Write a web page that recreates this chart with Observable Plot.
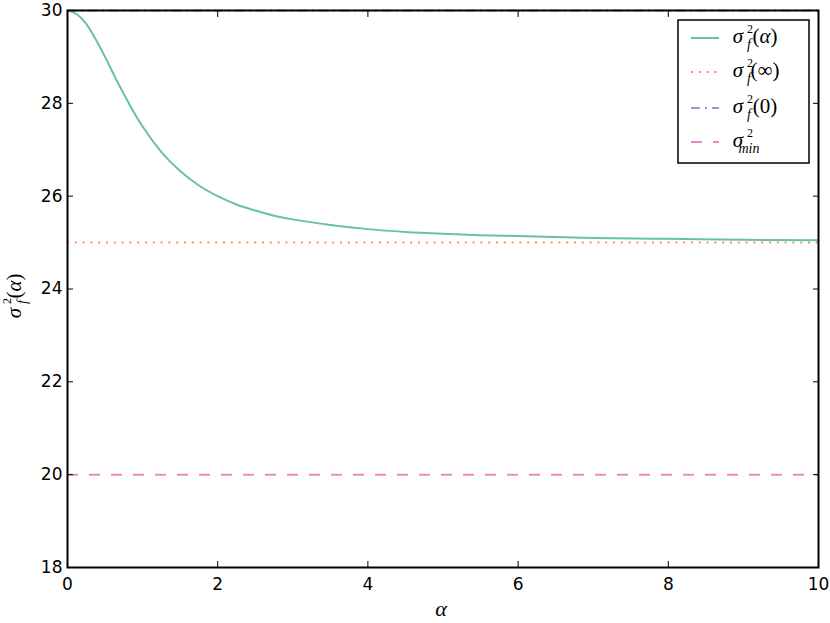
<!DOCTYPE html>
<html>
<head>
<meta charset="utf-8">
<script src="https://cdn.jsdelivr.net/npm/d3@7"></script>
<script src="https://cdn.jsdelivr.net/npm/@observablehq/plot@0.6"></script>
<style>
  html, body { margin: 0; padding: 0; background: white; }
</style>
</head>
<body>
<div id="chart"></div>
<script>
// Values
const alphaValues = [0, 0.125, 0.25, 0.375, 0.5, 0.625, 0.75, 0.875, 1, 1.25, 1.5, 1.75, 2, 2.25, 2.5, 2.75, 3, 3.5, 4, 4.5, 5, 5.5, 6, 7, 8, 9, 10];
const sigmaAlpha  = [30, 29.92, 29.71, 29.38, 29.0, 28.59, 28.20, 27.83, 27.5, 26.95, 26.54, 26.23, 26.0, 25.82, 25.69, 25.58, 25.5, 25.38, 25.29, 25.23, 25.19, 25.16, 25.14, 25.10, 25.08, 25.06, 25.05];
const sigmaInf = [25];
const sigmaZero = [30];
const sigmaMin = [20];
const xTicks = [0, 2, 4, 6, 8, 10];
const yTicks = [18, 20, 22, 24, 26, 28, 30];

const curveData = alphaValues.map((a, i) => ({alpha: a, sigma: sigmaAlpha[i]}));

const colors = {alpha: "#66c2a5", inf: "#fc8d62", zero: "#8da0cb", min: "#e78ac3"};

const W = 830, H = 623;
const chart = Plot.plot({
  width: W,
  height: H,
  marginLeft: 67,
  marginRight: 12,
  marginTop: 10,
  marginBottom: 56,
  style: {fontFamily: "DejaVu Sans", fontSize: "17px", background: "white", color: "black"},
  x: {domain: [0, 10]},
  y: {domain: [18, 30]},
  marks: [
    Plot.ruleY(sigmaMin, {stroke: colors.min, strokeWidth: 2, strokeDasharray: "11,11"}),
    Plot.ruleY(sigmaInf, {stroke: colors.inf, strokeWidth: 2, strokeDasharray: "2,5.8"}),
    Plot.ruleY(sigmaZero, {stroke: colors.zero, strokeWidth: 2, strokeDasharray: "9,5,2,5"}),
    Plot.line(curveData, {x: "alpha", y: "sigma", stroke: colors.alpha, strokeWidth: 2, curve: "monotone-x"}),
    Plot.axisX(xTicks, {anchor: "bottom", tickSize: -6, tickPadding: 16, fontSize: 17, stroke: "black", fill: "black", label: null}),
    Plot.axisX(xTicks, {anchor: "top", tickSize: -6, tickFormat: () => "", label: null, stroke: "black"}),
    Plot.axisY(yTicks, {anchor: "left", tickSize: -6, tickPadding: 11, fontSize: 17, stroke: "black", fill: "black", label: null}),
    Plot.axisY(yTicks, {anchor: "right", tickSize: -6, tickFormat: () => "", label: null, stroke: "black"}),
    Plot.frame({stroke: "black", strokeWidth: 2})
  ]
});
document.getElementById("chart").appendChild(chart);

const svg = d3.select(chart);
const mathFont = "Liberation Serif";

// Draw sigma with stacked superscript "2" and a subscript, followed by an optional suffix
function sigmaLabel(g, x, y, sub, suffix) {
  g.append("text").attr("x", x).attr("y", y)
    .attr("font-family", mathFont).attr("font-style", "italic").attr("font-size", 21)
    .attr("fill", "black").text("σ");
  g.append("text").attr("x", x + 12).attr("y", y - 10)
    .attr("font-family", mathFont).attr("font-size", 12)
    .attr("fill", "black").text("2");
  g.append("text").attr("x", x + 11).attr("y", y + 6)
    .attr("font-family", mathFont).attr("font-style", "italic").attr("font-size", 14)
    .attr("fill", "black").text(sub);
  if (suffix) {
    const t = g.append("text").attr("x", x + 27).attr("y", y)
      .attr("font-family", mathFont).attr("font-size", 21).attr("fill", "black");
    suffix.forEach(([txt, italic]) => {
      t.append("tspan").attr("font-style", italic ? "italic" : "normal").text(txt);
    });
  }
}

// Y axis label (rotated)
const yl = svg.append("g").attr("transform", "translate(21,313) rotate(-90)");
sigmaLabel(yl, 0, 0, "f", [["(", false], ["α", true], [")", false]]);

// X axis label
svg.append("text").attr("x", 441).attr("y", 616).attr("text-anchor", "middle")
  .attr("font-family", mathFont).attr("font-style", "italic").attr("font-size", 22)
  .attr("fill", "black").text("α");

// Legend
const lg = svg.append("g");
lg.append("rect").attr("x", 678).attr("y", 20).attr("width", 131).attr("height", 143)
  .attr("fill", "white").attr("stroke", "black").attr("stroke-width", 1.5);
const entries = [
  {color: colors.alpha, dash: null, sub: "f", suffix: [["(", false], ["α", true], [")", false]], y: 38},
  {color: colors.inf, dash: "2,5.8", sub: "f", suffix: [["(∞)", false]], y: 72},
  {color: colors.zero, dash: "9,5,2,5", sub: "f", suffix: [["(0)", false]], y: 108},
  {color: colors.min, dash: "11,11", sub: "min", suffix: null, y: 142}
];
entries.forEach(e => {
  lg.append("line").attr("x1", 691).attr("x2", 719).attr("y1", e.y).attr("y2", e.y)
    .attr("stroke", e.color).attr("stroke-width", 2).attr("stroke-dasharray", e.dash);
  sigmaLabel(lg, 738, e.y + 5, e.sub, e.suffix);
});
</script>
</body>
</html>
